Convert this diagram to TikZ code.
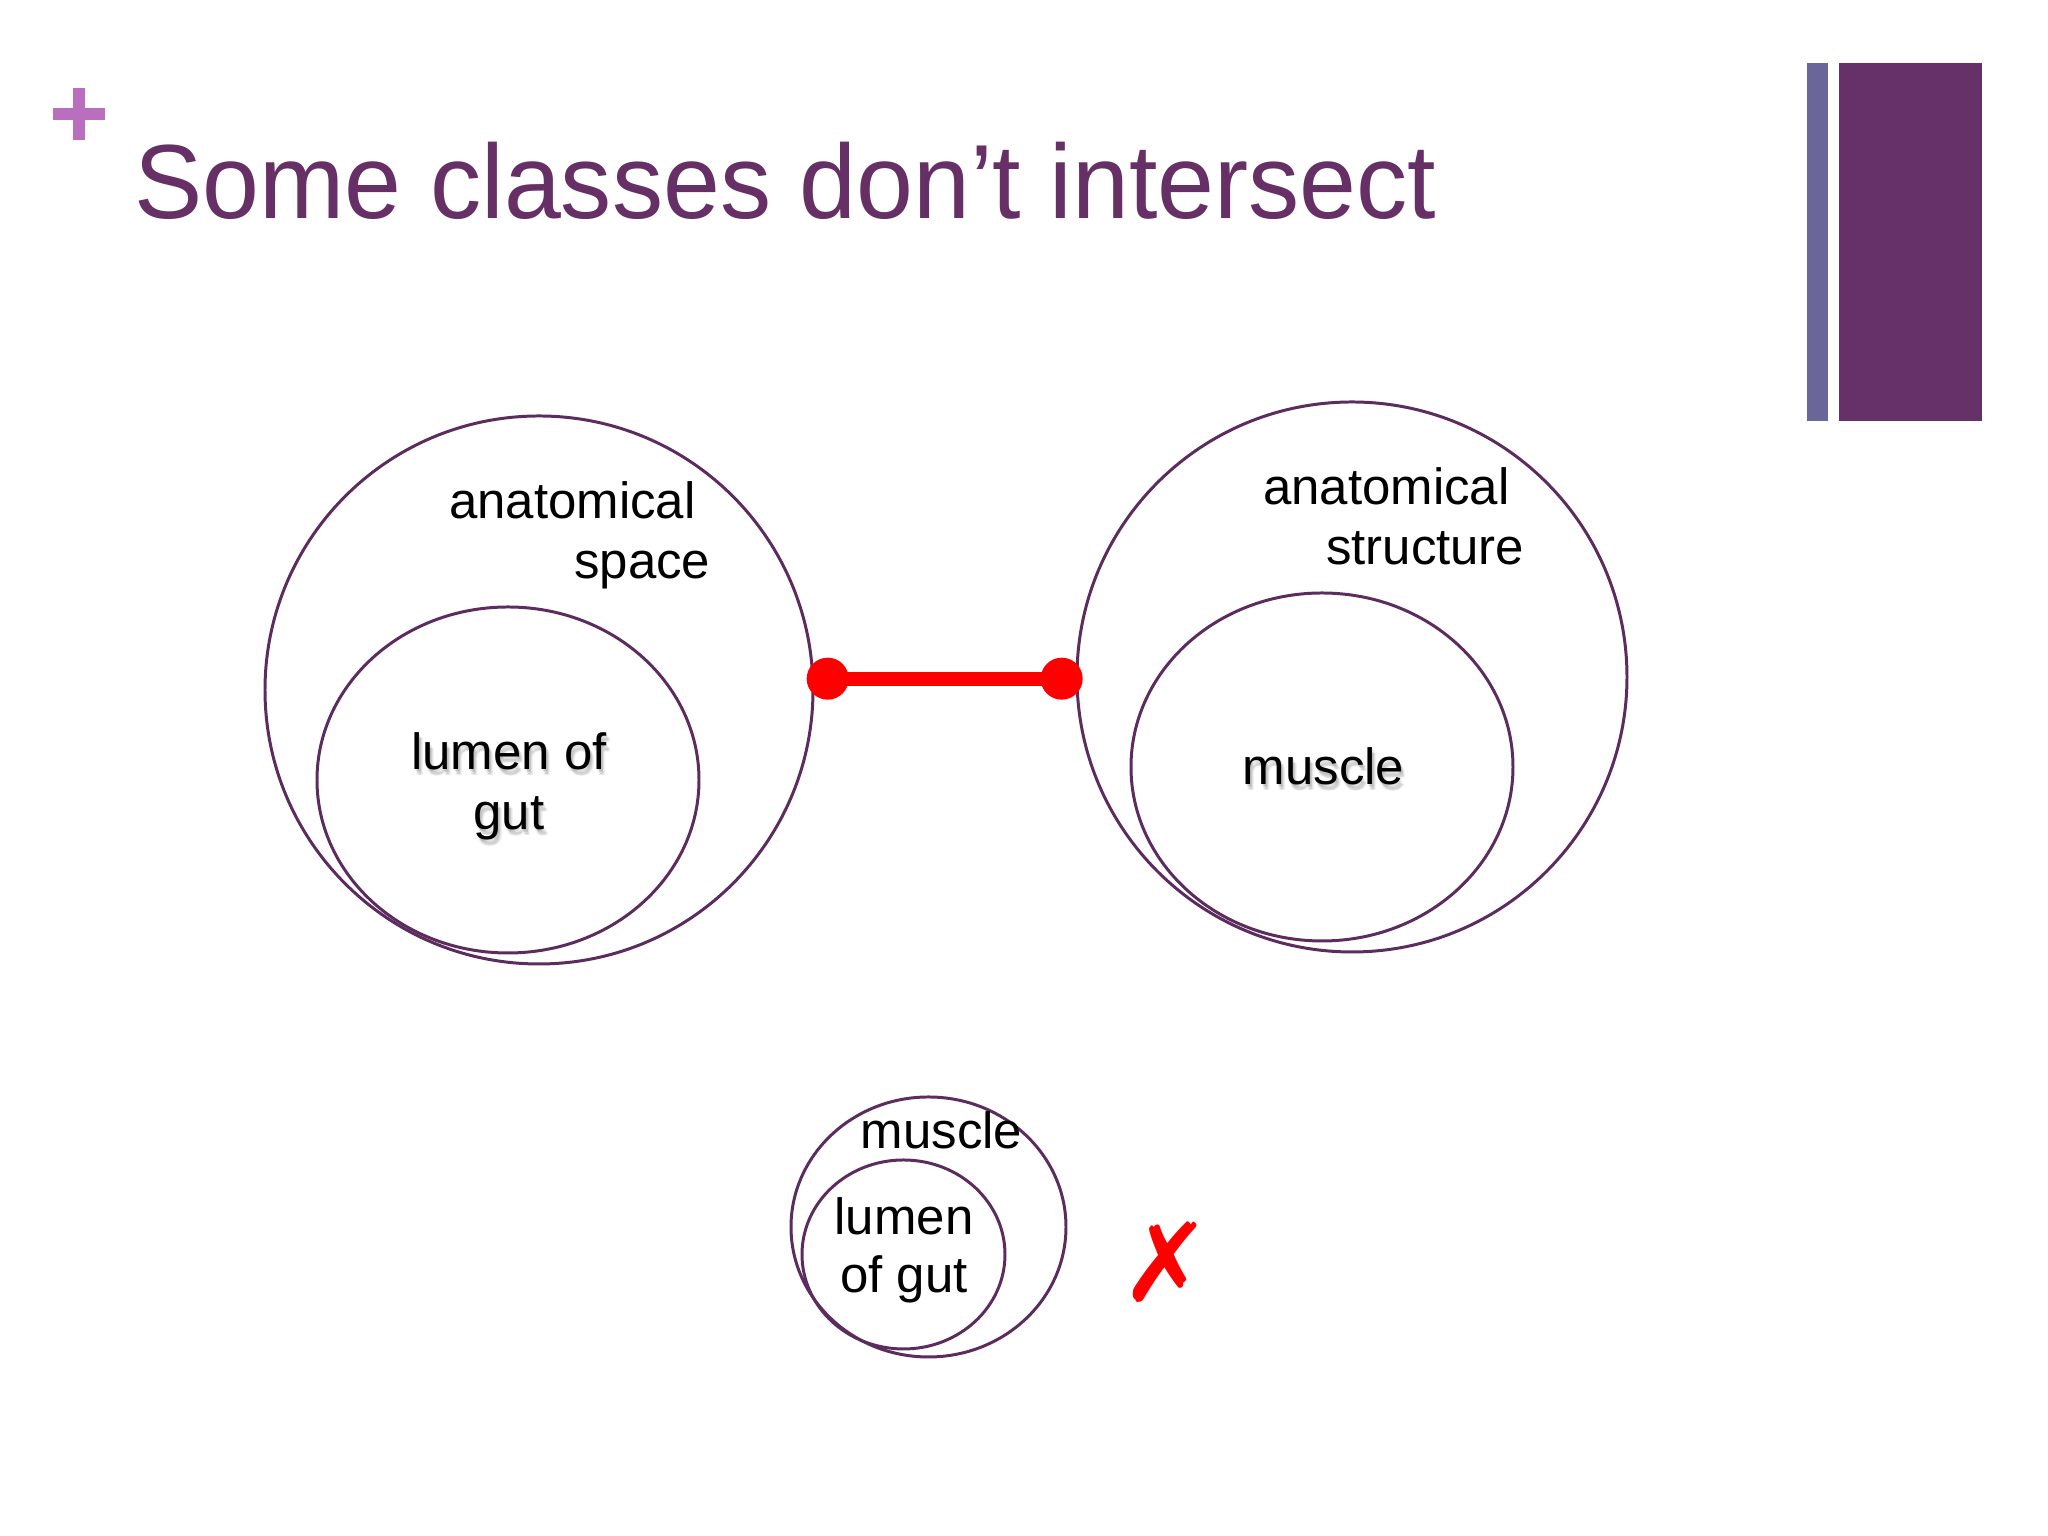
\documentclass[tikz,border=0pt]{standalone}
\usepackage{fontspec}
\setmainfont{Liberation Sans}
\newfontfamily\titlefont[FakeStretch=0.97]{Liberation Sans}
\newfontfamily\symfont{DejaVu Sans}
\usepackage{tikz}
\usetikzlibrary{positioning,shapes.geometric}

\definecolor{titlepurple}{RGB}{102,47,102}
\definecolor{barpurple}{RGB}{102,48,104}
\definecolor{barblue}{RGB}{106,102,153}
\definecolor{pluspink}{RGB}{186,110,190}
\definecolor{vennline}{RGB}{92,44,94}

\begin{document}
\begin{tikzpicture}[
            venn/.style={ellipse, draw=vennline, line width=0.85pt, inner sep=0pt},
            class label/.style={inner sep=0pt, font=\fontsize{14.5}{17.1}\selectfont},
            shadow label/.style={class label, text=black, text opacity=0.06},
            red dot/.style={circle, fill=red, minimum size=0.42cm, inner sep=0pt},
            red bar/.style={red, line width=0.14cm},
            every node/.style={align=center}
    ]
        % Page
        \fill[white] (0,0) rectangle (20.48,15.36);
        \useasboundingbox (0,0) rectangle (20.48,15.36);

        % Slide decoration
        \fill[pluspink] (0.53,14.16) rectangle (1.05,14.28);
        \fill[pluspink] (0.73,13.96) rectangle (0.85,14.48);
        \fill[barblue] (18.07,11.15) rectangle (18.28,14.73);
        \fill[barpurple] (18.39,11.15) rectangle (19.82,14.73);

        % Title
        \node[anchor=base west, inner sep=0pt, text=titlepurple, font=\titlefont\fontsize{30}{36}\selectfont] (title) at (1.34,13.17) {Some classes don’t intersect};

        % Space
        \node[venn, minimum width=5.48cm, minimum height=5.48cm] (space) at (5.39,8.46) {};
        \node[venn, minimum width=3.82cm, minimum height=3.46cm] (lumen) at (5.08,7.56) {};

        % Structure
        \node[venn, minimum width=5.50cm, minimum height=5.50cm] (structure) at (13.52,8.59) {};
        \node[venn, minimum width=3.82cm, minimum height=3.48cm] (muscle) at (13.22,7.69) {};

        % Wrong nesting
        \node[venn, minimum width=2.75cm, minimum height=2.60cm] (muscle_sm) at (9.285,3.09) {};
        \node[venn, minimum width=2.03cm, minimum height=1.89cm] (lumen_sm) at (9.035,2.815) {};

        % Labels
        \node[class label, align=right, anchor=base east] (space_lbl) at (7.11,9.57) {anatomical\kern0.29em\\space};
        \node[class label, align=right, anchor=base east] (structure_lbl) at (15.25,9.71) {anatomical\kern0.29em\\structure};

        \foreach \dx/\dy in {0.01/-0.02, 0.02/-0.03, 0.03/-0.045, 0.04/-0.06, 0.02/-0.055} {
            \node[shadow label, anchor=base] at (5.09+\dx,7.06+\dy) {lumen of\\gut};
            \node[shadow label, anchor=base] at (13.235+\dx,7.51+\dy) {muscle};
        }
        \node[class label, anchor=base] (lumen_lbl) at (5.09,7.06) {lumen of\\gut};
        \node[class label, anchor=base] (muscle_lbl) at (13.235,7.51) {muscle};

        \node[class label, anchor=base] (muscle_sm_lbl) at (9.415,3.87) {muscle};
        \node[class label, anchor=base, font=\fontsize{14.5}{16.5}\selectfont] (lumen_sm_lbl) at (9.04,2.43) {lumen\\of gut};

        % Disjointness
        \node[red dot] (dot_l) at (8.277,8.573) {};
        \node[red dot] (dot_r) at (10.617,8.573) {};
        \draw[red bar] (dot_l.center) -- (dot_r.center);

        \node[inner sep=0pt, text=red, font=\symfont\fontsize{31}{31}\selectfont] (cross) at (11.665,2.735) {✗};

    \end{tikzpicture}
\end{document}
